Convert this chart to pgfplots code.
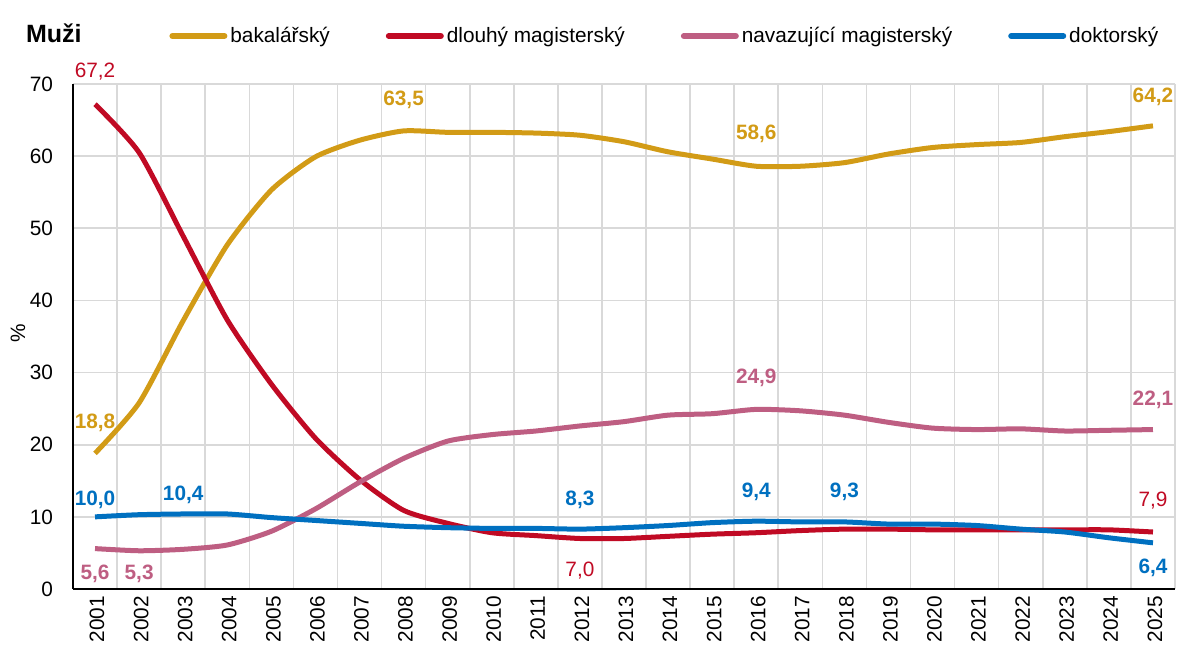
\documentclass[border=0pt]{standalone}
\usepackage{fontspec}
\setmainfont{Liberation Sans}
\usepackage{pgfplots}
\pgfplotsset{compat=1.18}
\definecolor{cGold}{RGB}{210,155,22}
\definecolor{cRed}{RGB}{192,10,36}
\definecolor{cPink}{RGB}{190,94,130}
\definecolor{cBlue}{RGB}{0,112,192}
\definecolor{cGrid}{RGB}{217,217,217}
\begin{document}
\begin{tikzpicture}
\path[use as bounding box] (-36.5pt,-29.5pt) rectangle (552pt,294.5pt);
\begin{axis}[
  at={(0,0)}, anchor=south west,
  scale only axis, width=551pt, height=252.5pt,
  xmin=2000.5, xmax=2025.5, ymin=0, ymax=70,
  xtick={2001,...,2025},
  minor xtick={2001.5,2002.5,...,2025.5},
  ytick={0,10,...,70},
  xminorgrids=true, ymajorgrids=true, xmajorgrids=false,
  minor grid style={cGrid, line width=0.8pt},
  major grid style={cGrid, line width=0.8pt},
  major tick length=0pt, minor tick length=0pt,
  axis x line*=bottom, axis y line*=left,
  axis line style={black, line width=0.8pt, -},
  /pgf/number format/assume math mode=true,
  /pgf/number format/set thousands separator={},
  tick label style={font=\fontsize{10.4}{12}\selectfont, black},
  xticklabel style={rotate=90, anchor=east, xshift=0pt, yshift=-1pt},
  yticklabel style={xshift=-6.5pt},
  ylabel={\%},
  ylabel style={at={(axis description cs:-0.05,0.507)}, anchor=center, font=\fontsize{10.4}{12}\selectfont},
  clip=false,
  legend columns=4,
  legend style={draw=none, fill=none, at={(axis description cs:0,1)}, anchor=west, xshift=48pt, yshift=24pt,
    font=\fontsize{10.4}{12}\selectfont, inner xsep=0pt, inner ysep=0pt,
    /tikz/every even column/.append style={column sep=26.5pt},
    nodes={inner xsep=1.5pt}},
  legend image code/.code={\draw[#1, line width=3pt, line cap=round] (0pt,0pt) -- (26pt,0pt);},
  every axis plot/.append style={line width=2.5pt, smooth, tension=0.4, no markers},
]
\addplot[cGold] coordinates {
(2001,18.8)(2002,25.8)(2003,37.2)(2004,47.7)(2005,55.3)(2006,59.9)(2007,62.2)(2008,63.5)(2009,63.3)(2010,63.3)
(2011,63.2)(2012,62.9)(2013,62.0)(2014,60.6)(2015,59.6)(2016,58.6)(2017,58.6)(2018,59.1)(2019,60.3)(2020,61.2)
(2021,61.6)(2022,61.9)(2023,62.7)(2024,63.4)(2025,64.2)};
\addlegendentry{bakalářský}
\addplot[cRed] coordinates {
(2001,67.2)(2002,60.5)(2003,48.9)(2004,37.3)(2005,28.4)(2006,20.9)(2007,15.2)(2008,10.9)(2009,9.1)(2010,7.8)
(2011,7.4)(2012,7.0)(2013,7.0)(2014,7.3)(2015,7.6)(2016,7.8)(2017,8.1)(2018,8.3)(2019,8.3)(2020,8.2)
(2021,8.2)(2022,8.2)(2023,8.2)(2024,8.2)(2025,7.9)};
\addlegendentry{dlouhý magisterský}
\addplot[cPink] coordinates {
(2001,5.6)(2002,5.3)(2003,5.5)(2004,6.1)(2005,8.0)(2006,11.1)(2007,14.8)(2008,18.1)(2009,20.5)(2010,21.4)
(2011,21.9)(2012,22.6)(2013,23.2)(2014,24.1)(2015,24.3)(2016,24.9)(2017,24.7)(2018,24.1)(2019,23.1)(2020,22.3)
(2021,22.1)(2022,22.2)(2023,21.9)(2024,22.0)(2025,22.1)};
\addlegendentry{navazující magisterský}
\addplot[cBlue] coordinates {
(2001,10.0)(2002,10.3)(2003,10.4)(2004,10.4)(2005,9.9)(2006,9.5)(2007,9.1)(2008,8.7)(2009,8.5)(2010,8.4)
(2011,8.4)(2012,8.3)(2013,8.5)(2014,8.8)(2015,9.2)(2016,9.4)(2017,9.3)(2018,9.3)(2019,9.0)(2020,9.0)
(2021,8.8)(2022,8.3)(2023,7.9)(2024,7.1)(2025,6.4)};
\addlegendentry{doktorský}

\tikzset{lab/.style={font=\fontsize{10.4}{12}\selectfont\bfseries, anchor=center}, labr/.style={font=\fontsize{10.4}{12}\selectfont, anchor=center}}
\node[labr, text=cRed] at (axis cs:2001,71.7) {67,2};
\node[labr, text=cRed] at (axis cs:2012,2.6) {7,0};
\node[labr, text=cRed] at (axis cs:2025,12.3) {7,9};
\node[lab, text=cGold] at (axis cs:2001,23.1) {18,8};
\node[lab, text=cGold] at (axis cs:2008,67.8) {63,5};
\node[lab, text=cGold] at (axis cs:2016,63.1) {58,6};
\node[lab, text=cGold] at (axis cs:2025,68.2) {64,2};
\node[lab, text=cPink] at (axis cs:2001,2.1) {5,6};
\node[lab, text=cPink] at (axis cs:2002,2.1) {5,3};
\node[lab, text=cPink] at (axis cs:2016,29.2) {24,9};
\node[lab, text=cPink] at (axis cs:2025,26.2) {22,1};
\node[lab, text=cBlue] at (axis cs:2001,12.3) {10,0};
\node[lab, text=cBlue] at (axis cs:2003,13.0) {10,4};
\node[lab, text=cBlue] at (axis cs:2012,12.3) {8,3};
\node[lab, text=cBlue] at (axis cs:2016,13.4) {9,4};
\node[lab, text=cBlue] at (axis cs:2018,13.4) {9,3};
\node[lab, text=cBlue] at (axis cs:2025,3.0) {6,4};
\node[anchor=west, font=\fontsize{12.5}{14}\selectfont\bfseries] at (axis description cs:0,1) [xshift=-27pt, yshift=25.5pt] {Muži};
\end{axis}
\end{tikzpicture}
\end{document}
